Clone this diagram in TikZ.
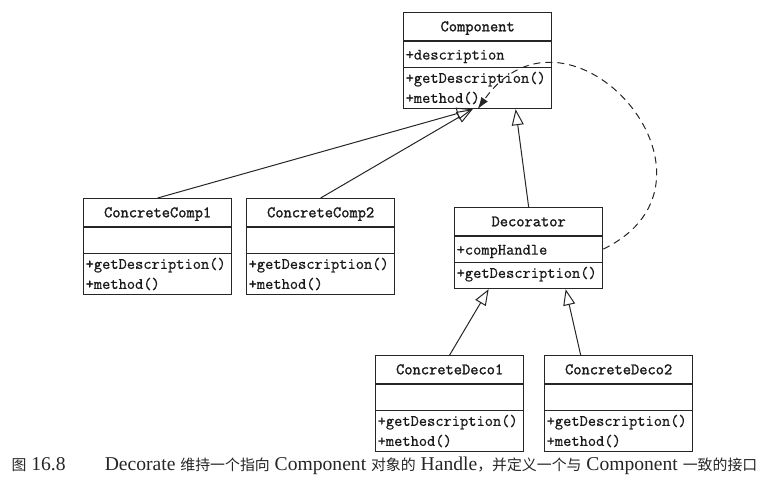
\documentclass[tikz,border=0pt]{standalone}
\usepackage{fontspec}
\setmainfont{Liberation Serif}
\newfontfamily\cjk[Scale=0.76]{Noto Sans CJK SC}
\newfontfamily\umlmono[FakeBold=0.7]{Latin Modern Mono}
\newfontfamily\umltitle[FakeBold=1.6]{Latin Modern Mono}
\usetikzlibrary{shapes.multipart,arrows.meta}

\newcommand{\clsname}[1]{\makebox[144pt]{\rule[-9pt]{0pt}{27pt}\umltitle #1}}
\newcommand{\clsattr}[1]{\makebox[144pt][l]{\rule[-7pt]{0pt}{25pt}#1}}
\newcommand{\clsop}[1]{\makebox[144pt][l]{\rule[-10pt]{0pt}{25pt}#1}}
\newcommand{\clsops}[2]{\vbox{\offinterlineskip
  \hbox to 144pt{\rule[-5pt]{0pt}{20pt}#1\hfil}
  \hbox to 144pt{\rule[-5pt]{0pt}{20pt}#2\hfil}}}

\begin{document}
\begin{tikzpicture}[x=1pt,y=1pt,
    umlclass/.style={draw=black!85, line width=1.3pt, rectangle split, rectangle split parts=3,
      inner xsep=2pt, inner ysep=0pt, anchor=north west,
      font=\umlmono\fontsize{16}{19}\selectfont, text=black!90},
    generalize/.style={draw=black!85, line width=1pt, -{Triangle[open,length=16pt,width=12pt]}},
    handle/.style={draw=black!85, line width=1pt, dash pattern=on 7pt off 5pt,
      -{Latex[length=12pt,width=8pt]}}]
  \useasboundingbox (0,0) rectangle (775,-484);
  % Les classes du motif décorateur
  \node[umlclass] (comp) at (403,-12) {\clsname{Component}\nodepart{two}\clsattr{+description}%
    \nodepart{three}\clsops{+getDescription()}{+method()}};
  \node[umlclass] (cc1) at (83,-198) {\clsname{ConcreteComp1}\nodepart{two}\clsattr{}%
    \nodepart{three}\clsops{+getDescription()}{+method()}};
  \node[umlclass] (cc2) at (246,-198) {\clsname{ConcreteComp2}\nodepart{two}\clsattr{}%
    \nodepart{three}\clsops{+getDescription()}{+method()}};
  \node[umlclass] (deco) at (454,-207) {\clsname{Decorator}\nodepart{two}\clsattr{+compHandle}%
    \nodepart{three}\clsop{+getDescription()}};
  \node[umlclass] (cd1) at (375,-355) {\clsname{ConcreteDeco1}\nodepart{two}\clsattr{}%
    \nodepart{three}\clsops{+getDescription()}{+method()}};
  \node[umlclass] (cd2) at (544,-355) {\clsname{ConcreteDeco2}\nodepart{two}\clsattr{}%
    \nodepart{three}\clsops{+getDescription()}{+method()}};

  \draw[generalize] (cc1.north) -- ([xshift=-5pt]comp.south);
  \draw[generalize] (cc2.north) -- ([xshift=-5pt]comp.south);
  \draw[generalize] (deco.north) -- ([xshift=38pt]comp.south);
  \draw[generalize] (cd1.north) -- ([xshift=-40pt]deco.south);
  \draw[generalize] ([xshift=-38pt]cd2.north) -- ([xshift=37pt]deco.south);
  \draw[handle] (deco.two east) .. controls +(26:158) and +(55:158) .. (comp.south);

  \node[anchor=west, font=\fontsize{19.6}{22}\selectfont, text=black!85] (cap) at (8,-466)
    {{\cjk 图} 16.8\hspace{2em}Decorate {\cjk 维持一个指向} Component {\cjk 对象的}
     Handle{\cjk ，并定义一个与} Component {\cjk 一致的接口}};
\end{tikzpicture}
\end{document}
